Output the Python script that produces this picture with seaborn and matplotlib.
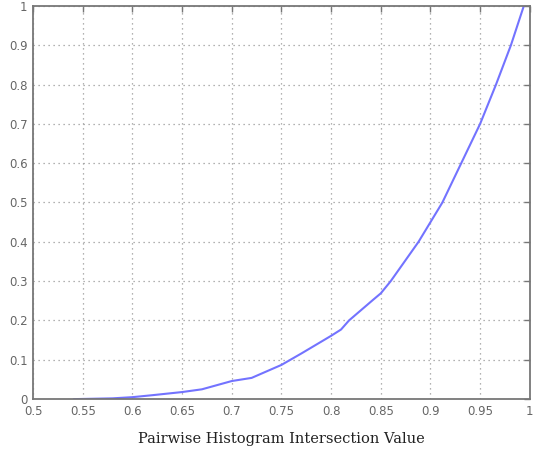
import matplotlib
matplotlib.use("Agg")
import matplotlib.pyplot as plt
import seaborn as sns
import pandas as pd

intersection = [0.541, 0.58, 0.6, 0.62, 0.65, 0.67, 0.7, 0.72, 0.75, 0.77, 0.8, 0.81,
                0.818, 0.842, 0.85, 0.86, 0.888, 0.912, 0.931, 0.95, 0.966, 0.981, 0.994]
cumulative = [0.0, 0.002, 0.005, 0.01, 0.018, 0.025, 0.046, 0.054, 0.087, 0.116, 0.161, 0.177,
              0.2, 0.252, 0.269, 0.3, 0.4, 0.5, 0.6, 0.7, 0.8, 0.9, 1.0]
xticks = [0.5, 0.55, 0.6, 0.65, 0.7, 0.75, 0.8, 0.85, 0.9, 0.95, 1.0]
xticklabels = ["0.5", "0.55", "0.6", "0.65", "0.7", "0.75", "0.8", "0.85", "0.9", "0.95", "1"]
yticks = [0, 0.1, 0.2, 0.3, 0.4, 0.5, 0.6, 0.7, 0.8, 0.9, 1.0]
yticklabels = ["0", "0.1", "0.2", "0.3", "0.4", "0.5", "0.6", "0.7", "0.8", "0.9", "1"]

df = pd.DataFrame({"x": intersection, "y": cumulative})

sns.set_style("white")
fig = plt.figure(figsize=(5.33, 4.51), dpi=100)
ax = fig.add_axes([0.062, 0.115, 0.932, 0.872])
sns.lineplot(data=df, x="x", y="y", ax=ax, color="#7373ff", linewidth=1.5)

ax.set_xlim(0.5, 1.0)
ax.set_ylim(0, 1.0)
ax.set_xticks(xticks)
ax.set_xticklabels(xticklabels)
ax.set_yticks(yticks)
ax.set_yticklabels(yticklabels)
ax.grid(True, linestyle=(0, (1, 3)), color="#999999", linewidth=0.9)
for s in ax.spines.values():
    s.set_color("#777777")
    s.set_linewidth(1.3)
ax.tick_params(direction="in", length=4, width=1, color="#777777", labelcolor="#666666",
               labelsize=8.5, top=True, right=True, pad=4)
ax.set_ylabel("")
ax.set_xlabel("Pairwise Histogram Intersection Value", family="DejaVu Serif",
              fontsize=10.5, color="#222222", labelpad=10)
fig.savefig("out.png", dpi=100)
